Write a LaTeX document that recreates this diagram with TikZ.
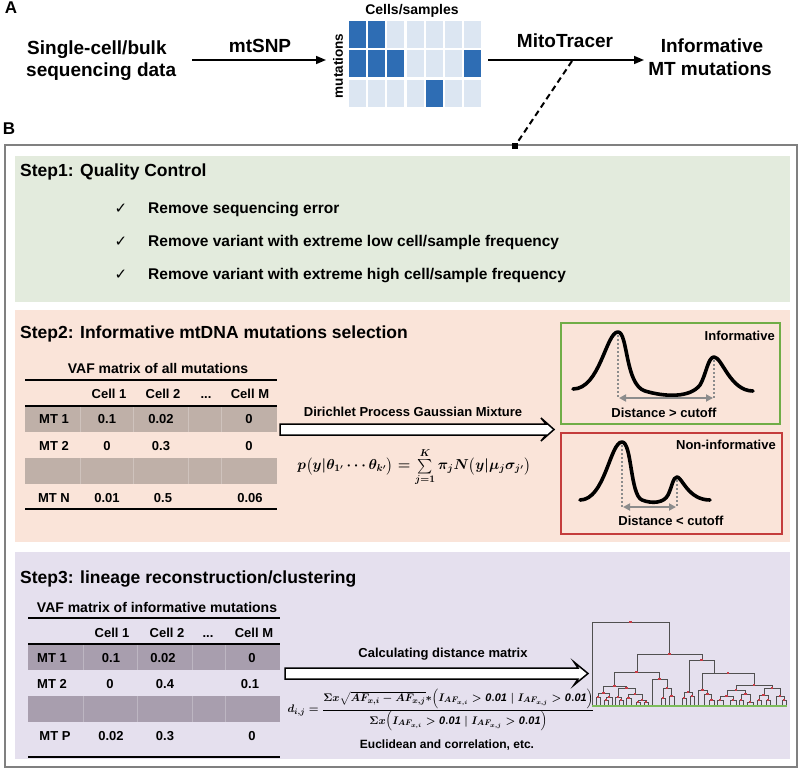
\documentclass[tikz,border=0pt]{standalone}
\usepackage{amsmath}
\usepackage{fontspec}
\setmainfont{Liberation Sans}
\newfontfamily\djv{DejaVu Sans}
\usetikzlibrary{arrows.meta}
\definecolor{hmdark}{RGB}{46,109,180}
\definecolor{hmlight}{RGB}{220,230,242}
\definecolor{pgreen}{RGB}{227,235,221}
\definecolor{psalmon}{RGB}{250,228,217}
\definecolor{plav}{RGB}{229,224,238}
\definecolor{bandA}{RGB}{191,176,168}
\definecolor{bandB}{RGB}{168,158,174}
\definecolor{boxgreen}{RGB}{112,173,71}
\definecolor{boxred}{RGB}{196,60,60}
\definecolor{outerg}{RGB}{128,128,128}
\definecolor{dgray}{RGB}{140,140,140}
\definecolor{dendl}{RGB}{80,80,80}
\definecolor{dendr}{RGB}{200,60,70}
\definecolor{leafg}{RGB}{125,189,91}
\newcommand{\fs}[1]{\fontsize{#1}{#1}\selectfont\bfseries}
\newcommand{\dn}[5]{\draw[dline] (#1,#2) -- (#1,#5) -- (#3,#5) -- (#3,#4);
  \fill[dendr] ({(#1+#3)/2-1.2},{#5-1.2}) rectangle ++(2.4,2.4);}
\newcommand{\formA}{$p\mathopen{\big(}y\vert\theta_{1^{\prime}}\cdots\theta_{k^{\prime}}\mathclose{\big)}=\sum\limits_{j=1}^{K}\pi_jN\mathopen{\big(}y\vert\mu_j\sigma_{j^{\prime}}\mathclose{\big)}$}
\newcommand{\condA}{I_{AF_{x,i}}>\mathit{0.01}\mathrel{\vert}I_{AF_{x,j}}>\mathit{0.01}}
\newcommand{\formB}{$\displaystyle d_{i,j}=\frac{\Sigma x\sqrt{AF_{x,i}-AF_{x,j}}{*}\mathopen{\Big(}\condA\mathclose{\Big)}}{\Sigma x\mathopen{\Big(}\condA\mathclose{\Big)}}$}
\tikzset{
  lbl/.style={inner sep=0pt, anchor=base},
  big/.style={lbl, font=\fs{19}},
  steptitle/.style={lbl, anchor=base west, font=\fs{17.5}},
  item/.style={lbl, anchor=base west, font=\fs{15.5}},
  tc/.style={lbl, font=\fs{13}},
  arr/.style={line width=1.5pt, -{Triangle[length=10pt,width=8pt]}},
  rule/.style={line width=1.5pt},
  hollow/.style={line width=1.5pt, fill=white, line join=miter},
  curve/.style={line width=3.6pt, line cap=round, line join=round},
  dotl/.style={dgray, line width=2pt, dash pattern=on 2pt off 2pt},
  garr/.style={dgray, line width=2pt, {Triangle[length=7pt,width=7pt]}-{Triangle[length=7pt,width=7pt]}},
  dline/.style={dendl, line width=0.9pt},
  fmA/.style={inner sep=0pt, font=\fontsize{14.4}{16}\selectfont\boldmath},
  fmB/.style={inner sep=0pt, font=\fontsize{10.95}{13}\selectfont\boldmath},
}
\begin{document}
\begin{tikzpicture}[x=1pt,y=-1pt]
\useasboundingbox (0,0) rectangle (800,770);
% ---------- Part A ----------
\node[lbl, font=\fs{17}] (labA) at (11,14) {A};
\node[big, anchor=base west] (src1) at (27,55) {Single-cell/bulk};
\node[big, anchor=base west] (src2) at (26,77) {sequencing data};
\coordinate (a1s) at (192,60);
\coordinate (a1e) at (326,60);
\draw[arr] (a1s) -- (a1e);
\node[big] (mtsnp) at (260,53) {mtSNP};
% heatmap
\foreach \c in {1,...,7}{\foreach \r in {1,2,3}{
  \fill[hmlight] ({349+(\c-1)*19.17},{21+(\r-1)*29.5}) rectangle ++(17,27);}}
\foreach \c/\r in {1/1,2/1,1/2,2/2,3/2,7/2,5/3}{
  \fill[hmdark] ({349+(\c-1)*19.17},{21+(\r-1)*29.5}) rectangle ++(17,27);}
\node[lbl, font=\fs{14}] (hmcols) at (412,15) {Cells/samples};
\node[inner sep=0pt, font=\fs{13.5}, rotate=90] (hmrows) at (338,66) {mutations};
\coordinate (a2s) at (488,60);
\coordinate (a2e) at (644,60);
\draw[arr] (a2s) -- (a2e);
\node[big] (mito) at (565,48) {MitoTracer};
\node[big] (inf1) at (712,53) {Informative};
\node[big] (inf2) at (710,76) {MT mutations};
\coordinate (dsh1) at (572,61);
\coordinate (dsh2) at (515,146);
\draw[line width=2pt, dash pattern=on 6pt off 4pt] (dsh1) -- (dsh2);
% ---------- Part B ----------
\node[lbl, font=\fs{17}] (labB) at (9,135) {B};
\draw[outerg, line width=2pt] (5,145) rectangle (797,767);
\fill (dsh2) ++(-3,-3) rectangle ++(6,6);
\fill[pgreen] (15,156) rectangle (790,302);
\fill[psalmon] (15,310) rectangle (790,542);
\fill[plav] (15,552) rectangle (790,759);
% Step 1
\node[steptitle] (s1) at (20,177) {Step1: Quality Control};
\foreach \y/\t [count=\i] in {213/{Remove sequencing error},246/{Remove variant with extreme low cell/sample frequency},279/{Remove variant with extreme high cell/sample frequency}}{
  \node[lbl, font=\djv\fontsize{15}{15}\selectfont] (ck\i) at (121,\y) {✓};
  \node[item] (it\i) at (148,\y) {\t};
}
% Step 2
\node[steptitle] (s2) at (20,338) {Step2: Informative mtDNA mutations selection};
\node[lbl, font=\fs{14}] (t1t) at (158,373) {VAF matrix of all mutations};
\fill[bandA] (25,406) rectangle (277,432);
\fill[bandA] (25,458) rectangle (277,484);
\foreach \x in {80,133,188,221}{
  \draw[white, opacity=0.25, line width=0.6pt] (\x,406) -- (\x,432) (\x,458) -- (\x,484);}
\draw[rule] (25,380) -- (277,380);
\draw[rule] (25,406) -- (277,406);
\draw[rule] (25,509) -- (277,509);
\node[tc] (t1h1) at (109,398) {Cell 1};
\node[tc] (t1h2) at (163,398) {Cell 2};
\node[tc] (t1h3) at (206,398) {...};
\node[tc] (t1h4) at (250,398) {Cell M};
\node[tc] (t1a0) at (54,423) {MT 1};
\node[tc] (t1a1) at (107,423) {0.1};
\node[tc] (t1a2) at (161,423) {0.02};
\node[tc] (t1a4) at (249,423) {0};
\node[tc] (t1b0) at (54,450) {MT 2};
\node[tc] (t1b1) at (107,450) {0};
\node[tc] (t1b2) at (161,450) {0.3};
\node[tc] (t1b4) at (249,450) {0};
\node[tc] (t1c0) at (54,502) {MT N};
\node[tc] (t1c1) at (107,502) {0.01};
\node[tc] (t1c2) at (163,502) {0.5};
\node[tc] (t1c4) at (250,502) {0.06};
% big hollow arrow 1
\draw[hollow] (280,424) -- (546,424) -- (541,418) -- (554,429.5) -- (541,441) -- (546,435) -- (280,435) -- cycle;
\node[tc] (dpgm) at (413,416) {Dirichlet Process Gaussian Mixture};
\node[fmA] (f1) at (414,467) {\formA};
% informative box
\draw[boxgreen, line width=1.5pt] (561,323) rectangle (780,424);
\node[lbl, anchor=base east, font=\fs{13}] (infl) at (775,340) {Informative};
\draw[curve] (573,389) .. controls (600,389) and (606,332) .. (618,332)
  .. controls (628,332) and (625,385) .. (645,391)
  .. controls (665,397) and (690,398) .. (700,385)
  .. controls (706,375) and (708,357) .. (714,357)
  .. controls (722,357) and (730,391) .. (753,391);
\draw[dotl] (618,335) -- (618,398);
\draw[dotl] (714,360) -- (714,398);
\coordinate (g1a) at (619,398);
\coordinate (g1b) at (713,398);
\draw[garr] (g1a) -- (g1b);
\node[lbl, font=\fs{13}] (dist1) at (664,417) {Distance > cutoff};
% non-informative box
\draw[boxred, line width=1.5pt] (561,433) rectangle (782,534);
\node[lbl, anchor=base east, font=\fs{13}] (ninfl) at (776,449) {Non-informative};
\draw[curve] (580,500) .. controls (605,500) and (610,442) .. (622,442)
  .. controls (632,442) and (630,495) .. (642,500)
  .. controls (652,504) and (664,503) .. (668,495)
  .. controls (672,487) and (673,477) .. (677,477)
  .. controls (682,477) and (688,500) .. (710,500);
\draw[dotl] (622,445) -- (622,507);
\draw[dotl] (677,480) -- (677,507);
\coordinate (g2a) at (623,507);
\coordinate (g2b) at (676,507);
\draw[garr] (g2a) -- (g2b);
\node[lbl, font=\fs{13}] (dist2) at (671,525) {Distance < cutoff};
% Step 3
\node[steptitle] (s3) at (20,583) {Step3: lineage reconstruction/clustering};
\node[lbl, font=\fs{14}] (t2t) at (157,612) {VAF matrix of informative mutations};
\fill[bandB] (28,644) rectangle (280,670);
\fill[bandB] (28,696) rectangle (280,722);
\foreach \x in {83,137,192,225}{
  \draw[white, opacity=0.25, line width=0.6pt] (\x,644) -- (\x,670) (\x,696) -- (\x,722);}
\draw[rule] (28,618) -- (280,618);
\draw[rule] (28,644) -- (280,644);
\draw[rule] (28,757) -- (280,757);
\node[tc] (t2h1) at (112,637) {Cell 1};
\node[tc] (t2h2) at (167,637) {Cell 2};
\node[tc] (t2h3) at (208,637) {...};
\node[tc] (t2h4) at (254,637) {Cell M};
\node[tc] (t2a0) at (52,662) {MT 1};
\node[tc] (t2a1) at (111,662) {0.1};
\node[tc] (t2a2) at (163,662) {0.02};
\node[tc] (t2a4) at (252,662) {0};
\node[tc] (t2b0) at (52,688) {MT 2};
\node[tc] (t2b1) at (110,688) {0};
\node[tc] (t2b2) at (165,688) {0.4};
\node[tc] (t2b4) at (250,688) {0.1};
\node[tc] (t2c0) at (55,740) {MT P};
\node[tc] (t2c1) at (111,740) {0.02};
\node[tc] (t2c2) at (165,740) {0.3};
\node[tc] (t2c4) at (252,740) {0};
% big hollow arrow 2
\draw[hollow] (285,668) -- (578,668) -- (574,662) -- (588,673.5) -- (574,685) -- (578,679) -- (285,679) -- cycle;
\node[tc] (cdm) at (443,657) {Calculating distance matrix};
\node[fmB] (f2) at (441,710) {\formB};
\node[lbl, font=\fs{12}] (eucl) at (447,748) {Euclidean and correlation, etc.};
% dendrogram
\dn{592}{705}{669}{654}{622}
\dn{637}{672}{702}{660}{654}
\dn{614}{686}{659}{679}{672}
\dn{603}{693}{626}{688}{686}
\dn{598}{697}{609}{697}{693}
\dn{596}{705}{600}{705}{697}
\dn{606}{700}{612}{705}{697}
\dn{604}{705}{608}{705}{700}
\dn{618}{697}{635}{694}{688}
\dn{615}{705}{621}{700}{697}
\dn{619}{705}{623}{705}{700}
\dn{628}{698}{642}{700}{694}
\dn{626}{705}{631}{705}{698}
\dn{638}{702}{646}{702}{700}
\dn{636}{705}{640}{705}{702}
\dn{644}{705}{648}{705}{702}
\dn{652}{705}{667}{688}{679}
\dn{663}{698}{671}{696}{688}
\dn{661}{705}{665}{705}{698}
\dn{669}{705}{674}{705}{696}
\dn{689}{692}{714}{673}{660}
\dn{684}{698}{692}{696}{692}
\dn{682}{705}{686}{705}{698}
\dn{690}{705}{694}{705}{696}
\dn{702}{690}{754}{685}{673}
\dn{698}{705}{707}{694}{690}
\dn{704}{705}{711}{700}{694}
\dn{709}{705}{714}{705}{700}
\dn{736}{690}{772}{688}{685}
\dn{727}{696}{745}{694}{690}
\dn{720}{700}{733}{700}{696}
\dn{717}{705}{723}{705}{700}
\dn{730}{705}{736}{705}{700}
\dn{741}{700}{750}{702}{694}
\dn{739}{705}{743}{705}{700}
\dn{747}{705}{753}{705}{702}
\dn{764}{695}{780}{696}{688}
\dn{759}{700}{768}{700}{695}
\dn{757}{705}{761}{705}{700}
\dn{766}{705}{770}{705}{700}
\dn{776}{705}{784}{700}{696}
\dn{782}{705}{786}{705}{700}
\draw[leafg, line width=2pt] (592,705.5) -- (787,705.5);
\end{tikzpicture}
\end{document}
